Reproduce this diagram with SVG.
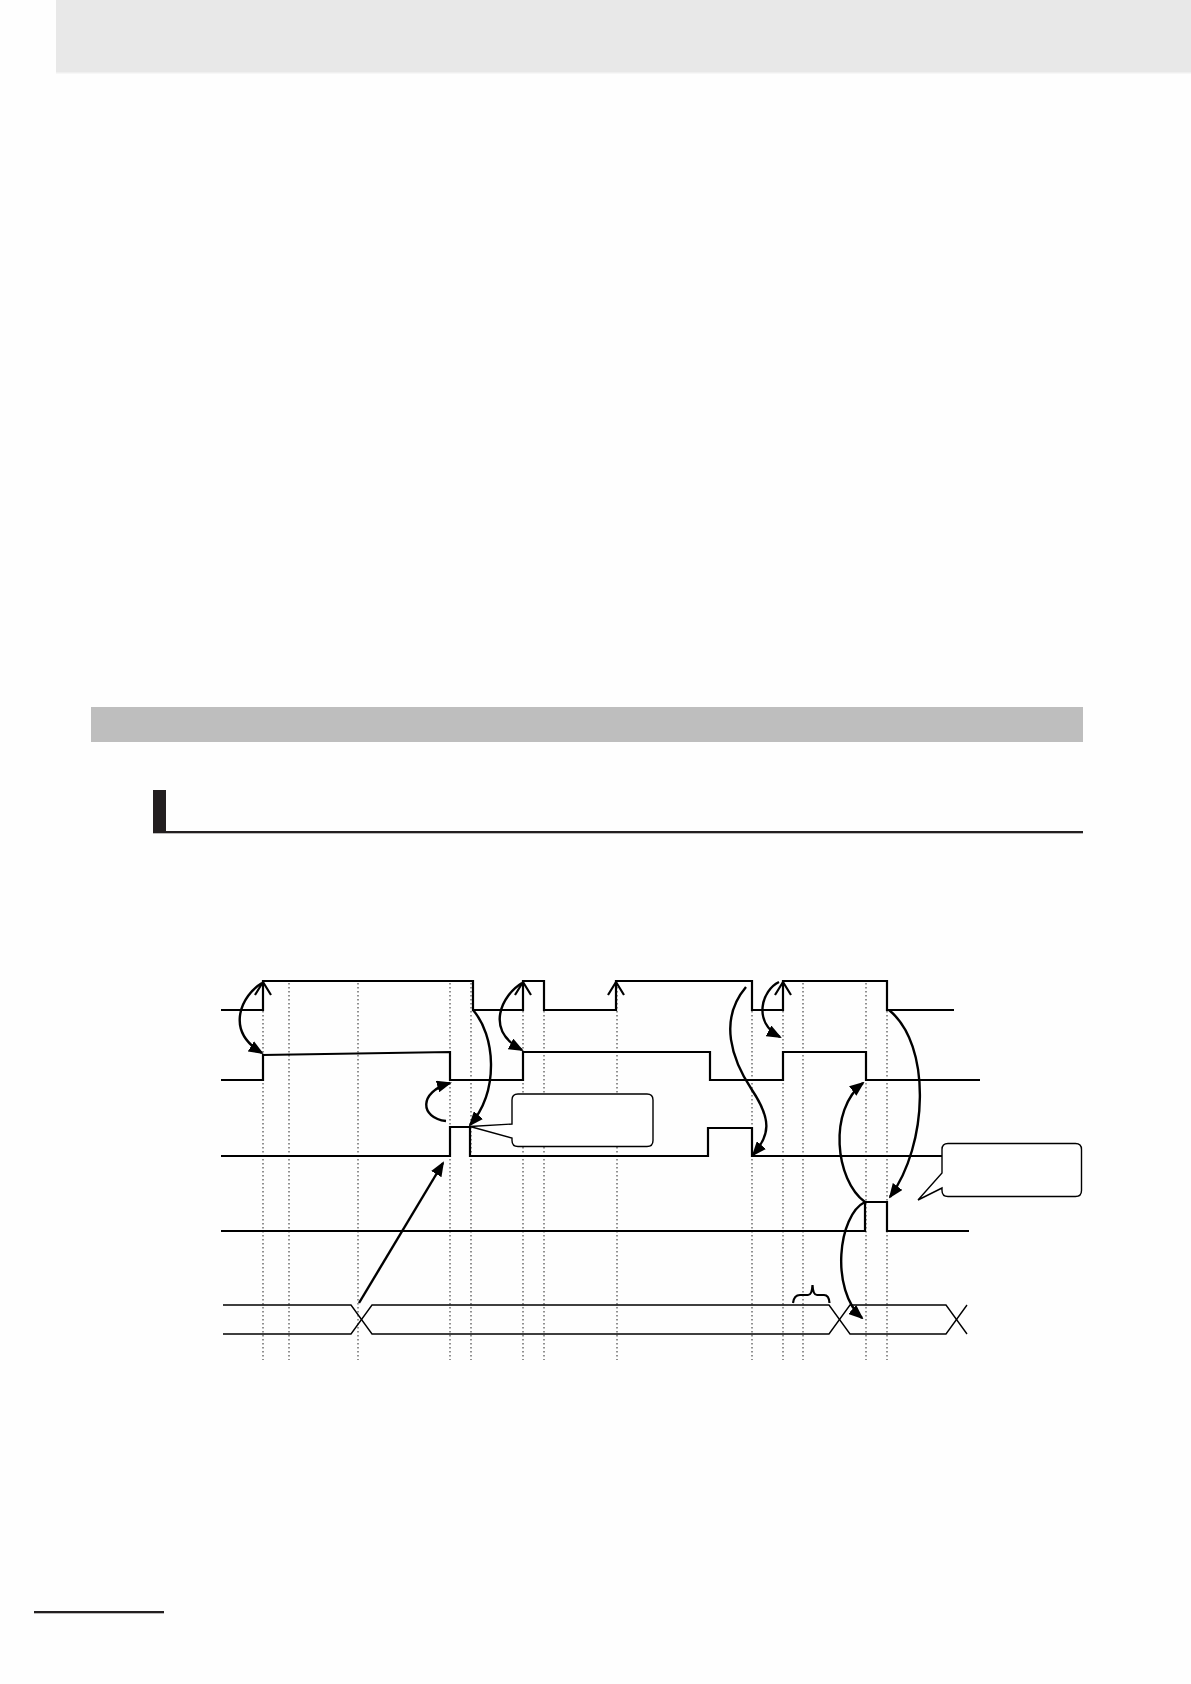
<svg xmlns="http://www.w3.org/2000/svg" width="1191" height="1684" viewBox="0 0 1191 1684">
  <style>
    .sig { fill: none; stroke: #000; stroke-width: 2.2; stroke-linejoin: miter; }
    .bus { fill: none; stroke: #000; stroke-width: 1.4; }
    .dot { fill: none; stroke: #222; stroke-width: 1; stroke-dasharray: 1.5 2.5; }
    .chev { fill: none; stroke: #000; stroke-width: 2.2; }
    .arr { fill: none; stroke: #000; stroke-width: 2.4; marker-end: url(#ah); }
    .call { fill: #fff; stroke: #000; stroke-width: 1.4; }
    .dark { fill: #231f20; }
  </style>
  <defs>
    <marker id="ah" viewBox="0 0 15 12" refX="13" refY="6" markerWidth="15" markerHeight="12" markerUnits="userSpaceOnUse" orient="auto">
      <path d="M0,0 L15,6 L0,12 z" fill="#000"/>
    </marker>
  </defs>
  <rect x="0" y="0" width="1191" height="1684" fill="#fefefe"/>
  <g id="page-header">
    <rect x="56" y="0" width="1135" height="73" fill="#e8e8e8"/>
    <rect x="56" y="72" width="1135" height="1.5" fill="#f0f0f0"/>
  </g>
  <g id="section-bar">
    <rect x="91" y="707" width="992" height="35" fill="#bebebe"/>
  </g>
  <g id="subheading">
    <rect class="dark" x="153" y="790" width="13" height="43"/>
    <rect class="dark" x="153" y="831" width="930" height="2.3"/>
  </g>
  <g id="footer">
    <rect class="dark" x="34" y="1611" width="130" height="2.3"/>
  </g>

  <g id="guides">
    <path class="dot" d="M263 983V1360M289 983V1360M358 983V1360M450 983V1360M471 983V1360M523 983V1360M544 983V1360M617 983V1360M752 983V1360M783 983V1360M803 983V1360M866 983V1360M887 983V1360"/>
  </g>

  <g id="signal-1">
    <path class="sig" d="M221 1010H263V981H473V1010H523V981H544V1010H616V981H752V1010H783V981H887V1010H954"/>
    <path class="chev" d="M255 995L263 982L271 995M515 995L523 982L531 995M608 995L616 982L624 995M775 995L783 982L791 995"/>
  </g>
  <g id="signal-2">
    <path class="sig" d="M221 1080H263V1055L450 1052V1080H523V1052H710V1080H783V1052H866V1080H980"/>
  </g>
  <g id="signal-3">
    <path class="sig" d="M221 1156H450V1127H470V1156H708V1128H752V1156H942"/>
  </g>
  <g id="signal-4">
    <path class="sig" d="M221 1231H865V1202H887V1231H969"/>
  </g>
  <g id="signal-bus">
    <path class="bus" d="M223 1305H351L372 1334H829L850 1305H946L967 1334"/>
    <path class="bus" d="M223 1334H351L372 1305H829L850 1334H946L967 1305"/>
    <path class="chev" d="M793 1303Q794 1295 800 1295H808Q812 1295 812.5 1285Q813 1295 817 1295H824Q829 1295 829.5 1303"/>
  </g>

  <g id="callout-1">
    <path class="call" d="M518 1094H647Q653 1094 653 1100V1140.5Q653 1146.5 647 1146.5H518Q512 1146.5 512 1140.5V1138L470 1126.5L512 1124V1100Q512 1094 518 1094Z"/>
  </g>
  <g id="callout-2">
    <path class="call" d="M948 1143.5H1075.5Q1081.5 1143.5 1081.5 1149.5V1190.5Q1081.5 1196.5 1075.5 1196.5H948Q942 1196.5 942 1190.5V1188L918 1200L942 1173V1149.5Q942 1143.5 948 1143.5Z"/>
  </g>

  <g id="connectors">
    <path class="arr" d="M262 983C242 995 224 1030 262 1053"/>
    <path class="arr" d="M522 983C502 995 484 1030 522 1050"/>
    <path class="arr" d="M779 982C762 990 752 1022 780 1037"/>
    <path class="arr" d="M446 1121C420 1118 418 1092 450 1083"/>
    <path class="arr" d="M473 1010C495 1035 500 1090 470 1125"/>
    <path class="arr" d="M359 1303L443 1163"/>
    <path class="arr" d="M746 987C718 1020 732 1060 752 1090S770 1135 753 1155"/>
    <path class="arr" d="M865 1202C835 1180 828 1110 863 1083"/>
    <path class="arr" d="M889 1010C932 1045 928 1145 890 1197"/>
    <path class="arr" d="M865 1202C838 1215 830 1290 862 1318"/>
  </g>
</svg>
